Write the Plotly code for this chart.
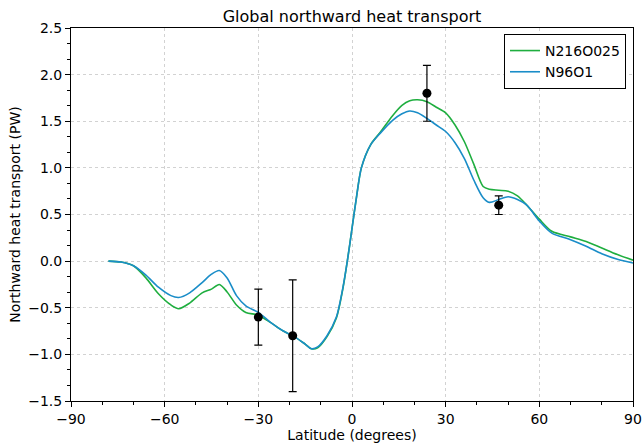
import plotly.graph_objects as go

# Model heat transport curves (latitude, PW)
LAT_BLUE = [-78, -74, -70, -66, -62, -58, -55.5, -52, -48, -45, -42.5, -40, -37, -34, -30, -26, -22, -18,
            -15, -13, -11, -8, -5, -3, -1.5, 0, 1.5, 3, 6, 9, 13, 16, 18.5, 21, 24, 27, 30, 33, 36, 39,
            42, 44, 47, 50, 53, 56, 60, 64, 70, 75, 80, 85, 90]
N96O1 = [0.0, -0.01, -0.05, -0.15, -0.28, -0.37, -0.39, -0.34, -0.23, -0.14, -0.10, -0.18, -0.37, -0.48,
         -0.55, -0.66, -0.75, -0.82, -0.89, -0.94, -0.92, -0.80, -0.60, -0.30, 0.0, 0.35, 0.70, 1.00, 1.25,
         1.37, 1.51, 1.58, 1.61, 1.59, 1.53, 1.46, 1.39, 1.27, 1.10, 0.87, 0.68, 0.63, 0.66, 0.69, 0.66,
         0.60, 0.43, 0.30, 0.23, 0.16, 0.08, 0.02, -0.02]

LAT_GREEN = LAT_BLUE
N216O025 = [0.0, -0.01, -0.05, -0.18, -0.35, -0.47, -0.51, -0.45, -0.34, -0.30, -0.25, -0.33, -0.47, -0.55,
            -0.58, -0.66, -0.75, -0.82, -0.89, -0.94, -0.93, -0.81, -0.61, -0.31, 0.0, 0.35, 0.70, 1.00, 1.25,
            1.38, 1.56, 1.67, 1.72, 1.73, 1.71, 1.65, 1.59, 1.46, 1.28, 1.04, 0.80, 0.77, 0.76, 0.75, 0.70,
            0.60, 0.45, 0.32, 0.26, 0.21, 0.14, 0.07, 0.01]

# Observational estimates with error ranges
OBS_LAT = [-30, -19, 24, 47]
OBS_VAL = [-0.6, -0.8, 1.8, 0.6]
OBS_ERR = [0.3, 0.6, 0.3, 0.1]

X_TICKS = [-90, -60, -30, 0, 30, 60, 90]
Y_TICKS = [-1.5, -1.0, -0.5, 0.0, 0.5, 1.0, 1.5, 2.0, 2.5]

GREEN = "#1fae3f"
BLUE = "#1a8dc8"
FONT = "DejaVu Sans"

fig = go.Figure()
fig.add_trace(go.Scatter(x=LAT_GREEN, y=N216O025, mode="lines", name="N216O025",
                         line=dict(color=GREEN, width=1.6, shape="spline", smoothing=0.8)))
fig.add_trace(go.Scatter(x=LAT_BLUE, y=N96O1, mode="lines", name="N96O1",
                         line=dict(color=BLUE, width=1.6, shape="spline", smoothing=0.8)))
fig.add_trace(go.Scatter(x=OBS_LAT, y=OBS_VAL, mode="markers", showlegend=False,
                         marker=dict(color="black", size=9),
                         error_y=dict(type="data", array=OBS_ERR, color="black", thickness=1.2, width=4)))

axis_common = dict(
    showline=True, mirror=True, linecolor="black", linewidth=1,
    ticks="outside", ticklen=5, tickcolor="black",
    showgrid=True, gridcolor="#d2d2d2", griddash="dot", gridwidth=1,
    zeroline=False, automargin=False,
    tickfont=dict(family=FONT, size=14, color="black"),
    title_font=dict(family=FONT, size=14, color="black"),
)

fig.update_xaxes(range=[-90, 90], tickvals=X_TICKS, title_text="Latitude (degrees)",
                 minor=dict(dtick=10, ticks="outside", ticklen=3, tickcolor="black", showgrid=False),
                 title_standoff=3, **axis_common)
fig.update_yaxes(range=[-1.5, 2.5], tickvals=Y_TICKS, tickformat=".1f",
                 title_text="Northward heat transport (PW)",
                 minor=dict(dtick=0.5 / 3, tick0=-1.5, ticks="outside", ticklen=3, tickcolor="black",
                            showgrid=False),
                 title_standoff=4, **axis_common)

fig.update_layout(
    width=642, height=444,
    margin=dict(l=71, r=9, t=28, b=43),
    paper_bgcolor="white", plot_bgcolor="white",
    font=dict(family=FONT, color="black"),
    title=dict(text="Global northward heat transport", x=0.5, xref="paper",
               y=1 - 16 / 444, yref="container", yanchor="middle",
               font=dict(family=FONT, size=16, color="black")),
    legend=dict(x=0.9875, y=0.984, xanchor="right", yanchor="top",
                bgcolor="white", bordercolor="black", borderwidth=1,
                font=dict(family=FONT, size=14, color="black")),
)

# drop the default page margin so the 642x444 figure fills the window
fig.write_html("out.html", config={"displayModeBar": False},
               post_script="document.body.style.margin='0';")
